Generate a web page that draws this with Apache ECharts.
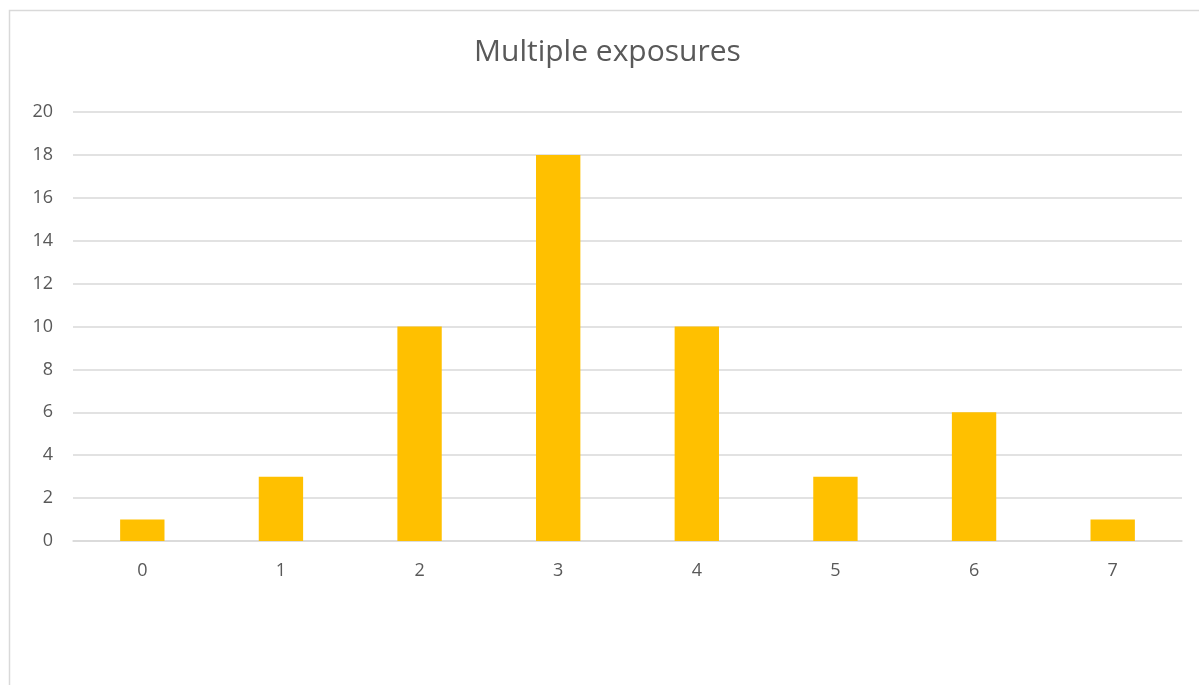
<!DOCTYPE html>
<html>
<head>
<meta charset="utf-8">
<script src="https://cdn.jsdelivr.net/npm/echarts@6/dist/echarts.min.js"></script>
<style>
html,body{margin:0;padding:0;background:#fff;}
#chart{width:1199px;height:685px;}
</style>
</head>
<body>
<div id="chart"></div>
<script>
const titleText = 'Multiple exposures';
const categories = ['0', '1', '2', '3', '4', '5', '6', '7'];
const values = [1, 3, 10, 18, 10, 3, 6, 1];
const yTicks = { min: 0, max: 20, interval: 2 };

const chart = echarts.init(document.getElementById('chart'), null, { renderer: 'canvas' });
chart.setOption({
  backgroundColor: '#ffffff',
  animation: false,
  graphic: [{
    type: 'rect',
    shape: { x: 9.5, y: 10.5, width: 1200, height: 700 },
    style: { fill: 'none', stroke: '#d9d9d9', lineWidth: 1.5 },
    silent: true
  }, {
    type: 'text',
    left: 474,
    top: 37,
    style: { text: titleText, font: 'normal 30px "Open Sans"', fill: '#595959' },
    silent: true
  }],
  grid: { left: 73, right: 17, top: 112, bottom: 144, containLabel: false },
  xAxis: {
    type: 'category',
    data: categories,
    axisLine: { show: true, lineStyle: { color: '#d9d9d9', width: 1.5 } },
    axisTick: { show: false },
    axisLabel: { fontFamily: 'Open Sans', fontSize: 18, color: '#595959', margin: 21 }
  },
  yAxis: {
    type: 'value',
    min: yTicks.min,
    max: yTicks.max,
    interval: yTicks.interval,
    axisLine: { show: false },
    axisTick: { show: false },
    splitLine: { lineStyle: { color: '#d9d9d9', width: 1.5 } },
    axisLabel: { fontFamily: 'Open Sans', fontSize: 18, color: '#595959', margin: 20 }
  },
  series: [{
    type: 'bar',
    data: values,
    barWidth: '32%',
    itemStyle: { color: '#FFC000' }
  }]
});
</script>
</body>
</html>
